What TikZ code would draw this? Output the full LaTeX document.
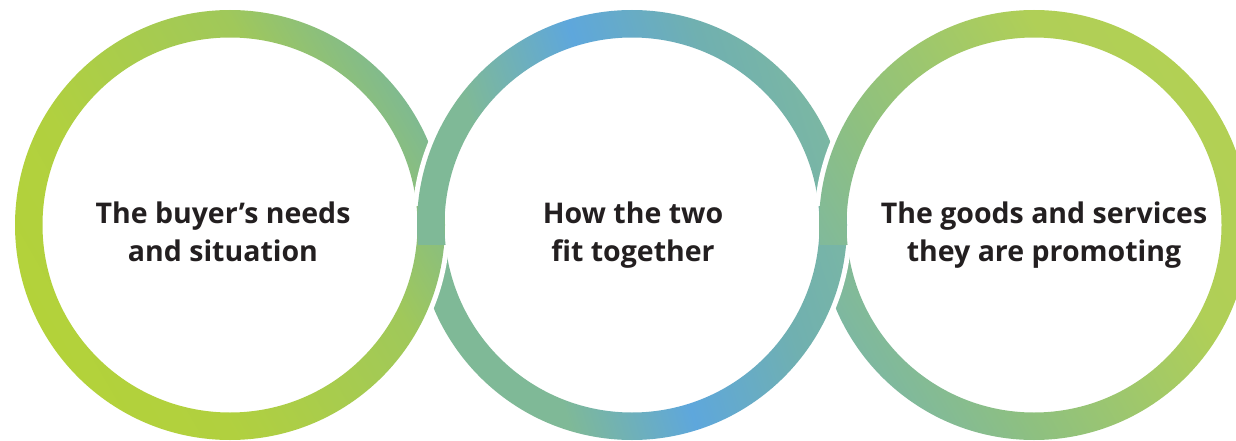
\documentclass[tikz,border=0pt]{standalone}
\usepackage{fontspec}
\setmainfont{Open Sans}
\definecolor{txt}{HTML}{231F20}
\definecolor{lA}{HTML}{B3D23A}
\definecolor{lB}{HTML}{B1D03F}
\definecolor{lC}{HTML}{A0C85A}
\definecolor{lD}{HTML}{80BA8F}
\definecolor{mA}{HTML}{84BB8F}
\definecolor{mB}{HTML}{7FB997}
\definecolor{mC}{HTML}{5EA7DC}
\definecolor{mD}{HTML}{70B0B0}
\definecolor{mE}{HTML}{7BB7A3}
\definecolor{rA}{HTML}{7EB8A0}
\definecolor{rB}{HTML}{8EC080}
\definecolor{rC}{HTML}{B0CF57}
\definecolor{rD}{HTML}{B2D054}
\pgfdeclarehorizontalshading{lshade}{100bp}{color(0bp)=(lA); color(25bp)=(lA); color(38bp)=(lB); color(62bp)=(lC); color(75bp)=(lD); color(100bp)=(lD)}
\pgfdeclarehorizontalshading{mshade}{100bp}{color(0bp)=(mA); color(25bp)=(mB); color(36bp)=(mB); color(50bp)=(mC); color(64bp)=(mD); color(75bp)=(mE); color(100bp)=(mE)}
\pgfdeclarehorizontalshading{rshade}{100bp}{color(0bp)=(rA); color(25bp)=(rA); color(38bp)=(rB); color(62bp)=(rC); color(75bp)=(rD); color(100bp)=(rD)}
\tikzset{
  ringL/.style={shading=lshade, shading angle=30, even odd rule},
  ringM/.style={shading=mshade, shading angle=17.6, even odd rule},
  ringR/.style={shading=rshade, shading angle=30, even odd rule},
  gap/.style={fill=white, even odd rule},
  lbl/.style={font=\fontsize{28.5}{38}\selectfont\bfseries, text=txt, anchor=base, inner sep=0pt}
}
\begin{document}
\begin{tikzpicture}[x=1pt,y=1pt]
\useasboundingbox (0,0) rectangle (1236,440);
\clip (0,0) rectangle (1236,440);
\coordinate (cL) at (230,215);
\coordinate (cM) at (632,215);
\coordinate (cR) at (1034,215);
% base rings
\shade[ringL] (cL) circle[radius=215] (cL) circle[radius=187.5];
\shade[ringM] (cM) circle[radius=215] (cM) circle[radius=187.5];
\shade[ringR] (cR) circle[radius=215] (cR) circle[radius=187.5];
% upper crossings: right ring over left ring
\begin{scope}
  \clip (-20,235) rectangle (1260,460);
  \fill[gap] (cM) circle[radius=220] (cM) circle[radius=182.5];
  \shade[ringM] (cM) circle[radius=215] (cM) circle[radius=187.5];
  \fill[gap] (cR) circle[radius=220] (cR) circle[radius=182.5];
  \shade[ringR] (cR) circle[radius=215] (cR) circle[radius=187.5];
\end{scope}
% lower crossings: left ring over right ring
\begin{scope}
  \clip (-20,-20) rectangle (1260,195);
  \fill[gap] (cM) circle[radius=220] (cM) circle[radius=182.5];
  \shade[ringM] (cM) circle[radius=215] (cM) circle[radius=187.5];
  \fill[gap] (cL) circle[radius=220] (cL) circle[radius=182.5];
  \shade[ringL] (cL) circle[radius=215] (cL) circle[radius=187.5];
\end{scope}
% labels
\node[lbl] (tL1) at (223,217) {The buyer’s needs};
\node[lbl] (tL2) at (223,178.5) {and situation};
\node[lbl] (tM1) at (633,217) {How the two};
\node[lbl] (tM2) at (633,178.5) {fit together};
\node[lbl] (tR1) at (1044,217) {The goods and services};
\node[lbl] (tR2) at (1044,178.5) {they are promoting};
\end{tikzpicture}
\end{document}
